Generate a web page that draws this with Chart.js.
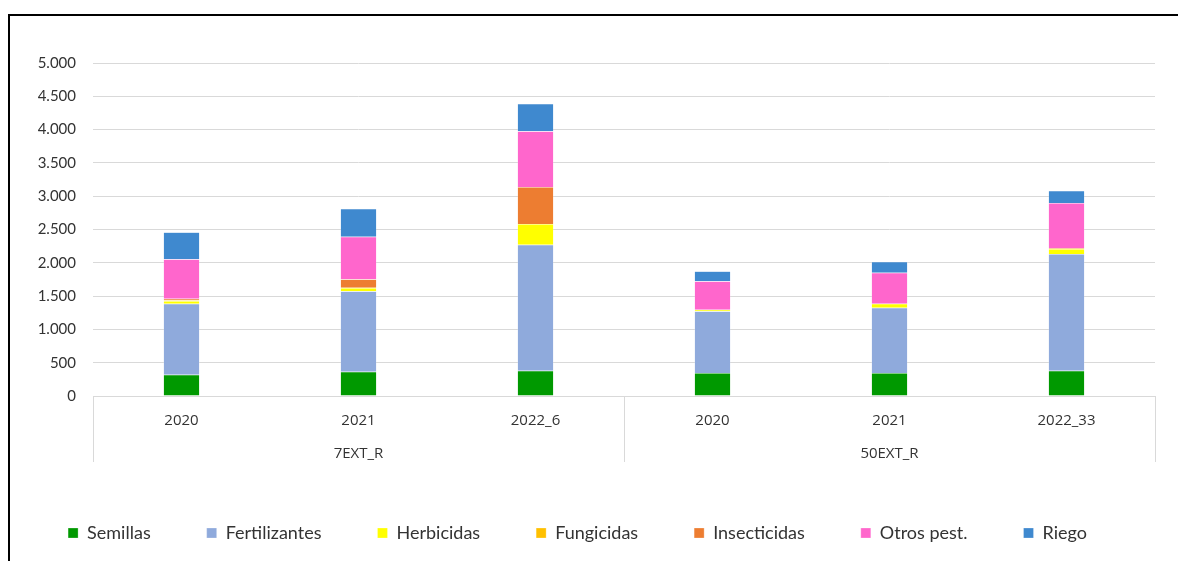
<!DOCTYPE html>
<html lang="es">
  <head>
    <meta charset="UTF-8" />
    <title>Costes por explotación</title>
    <script src="https://cdn.jsdelivr.net/npm/chart.js"></script>
    <style>
      html, body { margin: 0; padding: 0; overflow: hidden; background: #fff; }
      .frame {
        position: absolute; left: 8px; top: 14px; width: 1300px; height: 700px;
        border-top: 2px solid #000; border-left: 2px solid #000;
      }
      .wrap { position: absolute; left: 0; top: 0; width: 1178px; height: 561px; }
    </style>
  </head>
  <body>
    <div class="frame"></div>
    <div class="wrap"><canvas id="chart"></canvas></div>
    <script>
      // categorías (año) y grupos (explotación)
      const years = ["2020", "2021", "2022_6", "2020", "2021", "2022_33"];
      const groups = ["7EXT_R", "50EXT_R"];
      const yTicks = [0, 500, 1000, 1500, 2000, 2500, 3000, 3500, 4000, 4500, 5000];

      const semillas = [320, 365, 380, 345, 345, 380];
      const fertilizantes = [1066, 1207, 1892, 926, 981, 1752];
      const herbicidas = [42, 50, 311, 25, 60, 75];
      const fungicidas = [8, 5, 0, 0, 0, 5];
      const insecticidas = [25, 125, 555, 0, 0, 10];
      const otrosPest = [592, 640, 836, 426, 466, 676];
      const riego = [405, 421, 415, 150, 165, 185];

      const txt = "#333333";
      const gridCol = "#d9d9d9";

      function fmt(v) {
        return String(v).replace(/\B(?=(\d{3})+(?!\d))/g, ".");
      }

      function ds(label, data, color) {
        return {
          label: label,
          data: data,
          backgroundColor: color,
          borderColor: "rgba(255,255,255,0.5)",
          borderWidth: 0.5,
          categoryPercentage: 1,
          barPercentage: 0.205,
          xAxisID: "x",
        };
      }

      // líneas separadoras del eje de categorías en dos niveles
      const dividers = {
        id: "dividers",
        afterDraw(chart) {
          const x = chart.scales.x;
          const area = chart.chartArea;
          const mid = (x.getPixelForValue(2) + x.getPixelForValue(3)) / 2;
          const c = chart.ctx;
          c.save();
          c.strokeStyle = gridCol;
          c.lineWidth = 1;
          [area.left, mid, area.right].forEach(function (px) {
            c.beginPath();
            c.moveTo(Math.round(px) + 0.5, area.bottom);
            c.lineTo(Math.round(px) + 0.5, area.bottom + 66);
            c.stroke();
          });
          c.restore();
        },
      };

      const ctx = document.getElementById("chart").getContext("2d");
      new Chart(ctx, {
        type: "bar",
        data: {
          labels: years,
          datasets: [
            ds("Semillas", semillas, "#009900"),
            ds("Fertilizantes", fertilizantes, "#8faadc"),
            ds("Herbicidas", herbicidas, "#ffff00"),
            ds("Fungicidas", fungicidas, "#ffc000"),
            ds("Insecticidas", insecticidas, "#ed7d31"),
            ds("Otros pest.", otrosPest, "#ff66cc"),
            ds("Riego", riego, "#3f89cf"),
          ],
        },
        options: {
          responsive: true,
          maintainAspectRatio: false,
          animation: false,
          layout: { padding: { top: 63, right: 23, bottom: 9, left: 0 } },
          plugins: {
            tooltip: { enabled: false },
            legend: {
              position: "bottom",
              labels: {
                boxWidth: 10,
                boxHeight: 10,
                padding: 56,
                color: txt,
                font: { family: "Lato", size: 18 },
              },
            },
          },
          scales: {
            x: {
              stacked: true,
              grid: { display: false },
              border: { display: true, color: gridCol },
              ticks: { color: txt, padding: 8, font: { family: "Open Sans", size: 15 } },
              afterFit(s) { s.height = 36; },
            },
            x2: {
              type: "category",
              position: "bottom",
              labels: groups,
              offset: true,
              grid: { display: false },
              border: { display: false },
              ticks: { color: txt, padding: 5, font: { family: "Open Sans", size: 15 } },
              afterFit(s) { s.height = 36; },
            },
            y: {
              stacked: true,
              min: 0,
              max: 5000,
              afterBuildTicks(s) { s.ticks = yTicks.map(function (v) { return { value: v }; }); },
              grid: { color: gridCol, drawTicks: false },
              border: { display: false },
              ticks: {
                color: txt,
                padding: 17,
                font: { family: "Lato", size: 15 },
                callback: function (v) { return fmt(v); },
              },
              afterFit(s) { s.width = 93; },
            },
          },
        },
        plugins: [dividers],
      });
    </script>
  </body>
</html>
